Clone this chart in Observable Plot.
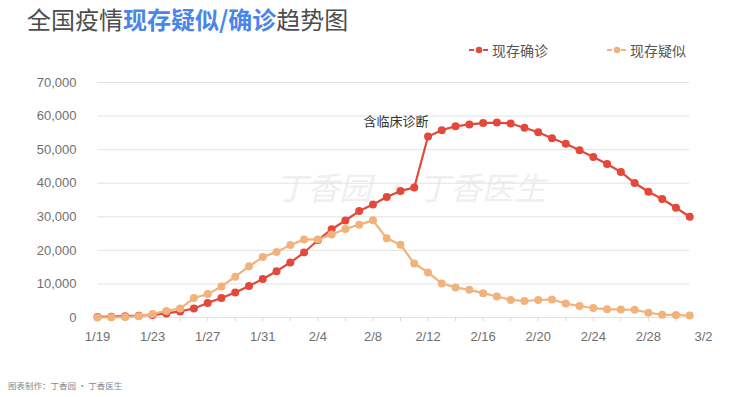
<!DOCTYPE html>
<html>
<head>
<meta charset="utf-8">
<script src="https://cdn.jsdelivr.net/npm/d3@7"></script>
<script src="https://cdn.jsdelivr.net/npm/@observablehq/plot@0.6"></script>
<style>
  html, body { margin: 0; padding: 0; background: #fff; }
  #wrap { position: relative; width: 737px; height: 397px; overflow: hidden; font-family: "Noto Sans CJK SC", "Noto Sans", sans-serif; }
  #title { position: absolute; left: 27px; top: 3px; font-size: 24px; line-height: 32px; color: #4d4d4d; white-space: nowrap; }
  #title .hl { color: #4a86ea; font-weight: 600; }
  #legend { position: absolute; left: 468px; top: 39px; font-size: 14px; line-height: 20px; color: #555; white-space: nowrap; }
  #legend .item { display: inline-flex; align-items: center; margin-right: 18px; }
  #legend svg { margin-right: 2px; }
  #footer { position: absolute; left: 8px; top: 379px; font-size: 8.5px; color: #888; white-space: nowrap; }
  #chart { position: absolute; left: 0; top: 0; }
</style>
</head>
<body>
<div id="wrap">
  <div id="chart"></div>
  <div id="title">全国疫情<span class="hl">现存疑似/确诊</span>趋势图</div>
  <div id="legend"></div>
  <div id="footer">图表制作：丁香园 · 丁香医生</div>
</div>
<script>
const dates = ["1/19","1/20","1/21","1/22","1/23","1/24","1/25","1/26","1/27","1/28","1/29","1/30","1/31",
  "2/1","2/2","2/3","2/4","2/5","2/6","2/7","2/8","2/9","2/10","2/11","2/12","2/13","2/14","2/15","2/16",
  "2/17","2/18","2/19","2/20","2/21","2/22","2/23","2/24","2/25","2/26","2/27","2/28","2/29","3/1","3/2"];
const confirmed = [180, 260, 400, 530, 770, 1210, 1800, 2700, 4350, 5800, 7450, 9400, 11450,
  13800, 16370, 19370, 23000, 26300, 28900, 31700, 33650, 35900, 37700, 38700, 53900, 55800, 56950, 57500, 57900,
  58050, 57800, 56500, 55200, 53400, 51750, 49850, 47800, 45700, 43350, 40050, 37450, 35300, 32700, 30000];
const suspected = [0, 60, 150, 390, 1070, 1960, 2680, 5790, 6970, 9240, 12170, 15240, 17990,
  19540, 21560, 23210, 23260, 24700, 26360, 27660, 28940, 23590, 21680, 16070, 13440, 10110, 8970, 8230, 7260,
  6240, 5250, 4920, 5210, 5370, 4150, 3430, 2820, 2490, 2360, 2310, 1420, 850, 720, 590];
const tickLabels = ["1/19","1/23","1/27","1/31","2/4","2/8","2/12","2/16","2/20","2/24","2/28","3/2"];
const yTicks = [0, 10000, 20000, 30000, 40000, 50000, 60000, 70000];
const seriesNames = ["现存确诊", "现存疑似"];
const seriesColors = ["#e4483b", "#f1b27b"];
const annotations = [{date: "2/12", series: "现存确诊", text: "含临床诊断"}];
const watermark = "丁香园 · 丁香医生";

const rowsC = dates.map((d, i) => ({i, date: d, value: confirmed[i]}));
const rowsS = dates.map((d, i) => ({i, date: d, value: suspected[i]}));
const last = dates.length - 1;
const labelTicks = tickLabels.map((_, k) => k * 4);
const minorTicks = d3.range(0, last + 1, 2);
const annRows = annotations.map(a => {
  const i = dates.indexOf(a.date);
  return {i, value: (a.series === seriesNames[0] ? confirmed : suspected)[i], text: a.text};
});

const font = "'Liberation Sans', 'Noto Sans CJK SC', sans-serif";

const chart = Plot.plot({
  width: 737,
  height: 397,
  marginLeft: 97,
  marginRight: 34,
  marginTop: 82,
  marginBottom: 80,
  style: {fontFamily: font, fontSize: "13px", color: "#6e6e6e", background: "transparent"},
  x: {domain: [0, labelTicks[labelTicks.length - 1]]},
  y: {domain: [0, yTicks[yTicks.length - 1]]},
  marks: [
    Plot.text([watermark], {frameAnchor: "top-left", dx: 313, dy: 95, text: d => d, fontSize: 32, fontStyle: "italic", fill: "#efefef", textAnchor: "middle", fontFamily: "'Noto Sans CJK SC', sans-serif"}),
    Plot.ruleY(yTicks, {y: d => d, x1: 0, x2: last, stroke: "#e3e3e3", strokeWidth: 1}),
    Plot.axisY({ticks: yTicks, tickSize: 0, tickPadding: 21, tickFormat: d3.format(","), label: null, fill: "#707070"}),
    Plot.axisX({ticks: minorTicks, tickSize: 4, tickFormat: () => "", label: null, stroke: "#dcdcdc"}),
    Plot.axisX({ticks: labelTicks, tickSize: 0, tickPadding: 14, tickFormat: v => tickLabels[Math.round(v / 4)], label: null, fill: "#707070"}),
    Plot.line(rowsC, {x: "i", y: "value", stroke: seriesColors[0], strokeWidth: 2.2}),
    Plot.dot(rowsC, {x: "i", y: "value", r: 4, fill: seriesColors[0], stroke: "none"}),
    Plot.line(rowsS, {x: "i", y: "value", stroke: seriesColors[1], strokeWidth: 2.2}),
    Plot.dot(rowsS, {x: "i", y: "value", r: 4, fill: seriesColors[1], stroke: "none"}),
    Plot.text(annRows, {x: "i", y: "value", text: "text", dx: -32, dy: -15, fontSize: 13, fill: "#333", fontFamily: "'Noto Sans CJK SC', sans-serif"})
  ]
});
document.getElementById("chart").appendChild(chart);

const legend = document.getElementById("legend");
seriesNames.forEach((name, k) => {
  const item = document.createElement("span");
  item.className = "item";
  if (k === 1) item.style.marginLeft = "40px";
  item.innerHTML = `<svg width="22" height="10"><line x1="1" x2="21" y1="5" y2="5" stroke="${seriesColors[k]}" stroke-width="2" stroke-dasharray="5 2"/><circle cx="11" cy="5" r="3.2" fill="${seriesColors[k]}"/></svg>${name}`;
  legend.appendChild(item);
});
</script>
</body>
</html>
